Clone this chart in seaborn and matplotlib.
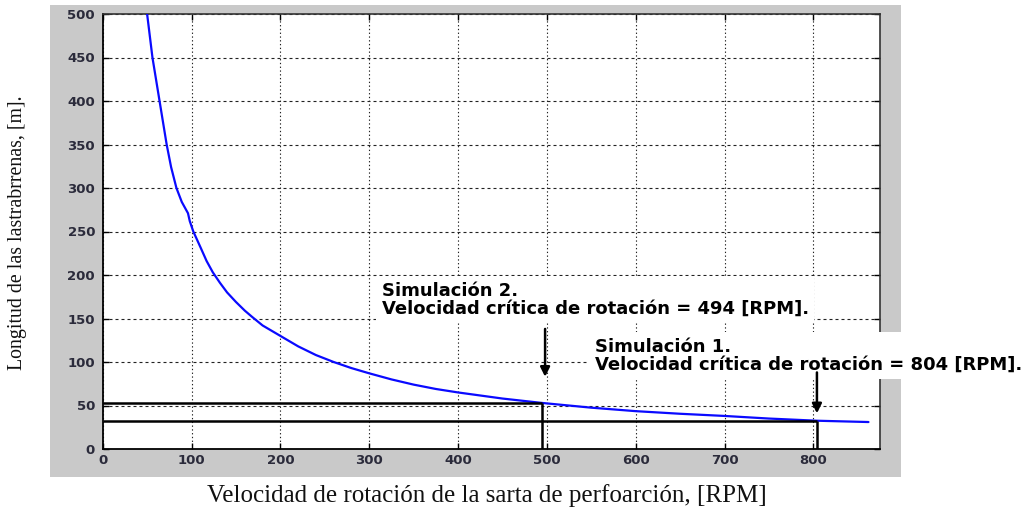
import matplotlib
matplotlib.use("Agg")
import matplotlib.pyplot as plt
from matplotlib.patches import Rectangle
import seaborn as sns
import pandas as pd

# Critical length of drill collars vs. rotary speed
rpm = [48, 50, 53, 56, 60, 64, 68, 72, 77, 83, 89, 96, 98, 102, 110, 117,
       124, 132, 140, 150, 160, 168, 180, 200, 220, 240, 260, 280, 300, 325,
       350, 375, 400, 450, 494, 550, 600, 650, 700, 750, 804, 862]
longitud = [540, 500, 475, 450, 425, 400, 375, 350, 324, 300, 284, 271, 262,
            250, 232, 216, 203, 191, 180, 169, 159, 152, 142, 130, 118, 108,
            100, 93, 87, 80, 74, 69, 65, 58, 53, 47.5, 43.5, 40.5, 38, 35,
            32.5, 31]

# Critical speeds of the two simulations and their collar lengths
sim_rpm = [804, 494]
sim_len = [32.5, 53]
sim_titles = ["Simulación 1.", "Simulación 2."]

x_ticks = [0, 100, 200, 300, 400, 500, 600, 700, 800]
y_ticks = [0, 50, 100, 150, 200, 250, 300, 350, 400, 450, 500]

xlabel = "Velocidad de rotación de la sarta de perfoarción, [RPM]"
ylabel = "Longitud de las lastrabrrenas, [m]."

df = pd.DataFrame({"rpm": rpm, "longitud": longitud})

sns.set_theme(style="white")
plt.rcParams["font.family"] = ["DejaVu Sans"]

W, H = 1027, 509
fig = plt.figure(figsize=(W / 100, H / 100), dpi=100, facecolor="white")

# grey figure panel behind the axes
fig.patches.append(Rectangle((50 / W, 1 - 477 / H), (901 - 50) / W, (477 - 5) / H,
                             transform=fig.transFigure, facecolor="#c9c9c9",
                             edgecolor="none", zorder=0))

ax = fig.add_axes([102.7 / W, 1 - 449 / H, (880 - 102.7) / W, (449 - 14) / H])
ax.set_facecolor("white")
ax.set_zorder(1)

sns.lineplot(data=df, x="rpm", y="longitud", ax=ax, color="#0a0aff", lw=1.6,
             sort=False, estimator=None, zorder=3)

ax.set_xlim(0, 875)
ax.set_ylim(0, 500)
ax.set_xticks(x_ticks)
ax.set_yticks(y_ticks)
ax.set_xticklabels([str(v) for v in x_ticks])
ax.set_yticklabels([str(v) for v in y_ticks])

tick_color = "#2b2b3b"
ax.tick_params(axis="both", direction="in", length=4, width=1, color="black",
               labelsize=9.5, labelcolor=tick_color, top=True, right=True,
               bottom=True, left=True)
ax.tick_params(axis="x", pad=3.5)
ax.tick_params(axis="y", pad=5.5)
for lab in ax.get_xticklabels() + ax.get_yticklabels():
    lab.set_fontweight("bold")

for side in ["left", "bottom"]:
    ax.spines[side].set_color("black")
    ax.spines[side].set_linewidth(1.3)
for side in ["top", "right"]:
    ax.spines[side].set_color("#333333")
    ax.spines[side].set_linewidth(1.2)

# MATLAB-like dotted grid
ax.xaxis.grid(True, color="#222222", lw=0.8, linestyle=(0, (1.2, 2.2)))
ax.yaxis.grid(True, color="#222222", lw=0.8, linestyle=(0, (2.7, 2.7)))
ax.set_axisbelow(True)

# reference lines for each simulation
for n, l in zip(sim_rpm, sim_len):
    ax.plot([0, n], [l, l], color="black", lw=1.8, zorder=4, solid_capstyle="butt")
    ax.plot([n, n], [0, l], color="black", lw=1.8, zorder=4, solid_capstyle="butt")

# annotations with arrows
box = dict(facecolor="white", edgecolor="none", pad=4)
labels = [f"{t}\nVelocidad crítica de rotación = {n} [RPM]."
          for t, n in zip(sim_titles, sim_rpm)]

ax.text(554, 128, labels[0], ha="left", va="top", fontsize=13, fontweight="bold",
        color="black", linespacing=0.98, bbox=box, clip_on=False, zorder=6)
ax.text(314, 192, labels[1], ha="left", va="top", fontsize=13, fontweight="bold",
        color="black", linespacing=0.98, bbox=box, clip_on=False, zorder=6)

arrow = dict(arrowstyle="-|>", lw=1.8, color="black", mutation_scale=14,
             shrinkA=0, shrinkB=0)
ax.annotate("", xy=(sim_rpm[0], 41), xytext=(sim_rpm[0], 88), arrowprops=arrow,
            zorder=7)
ax.annotate("", xy=(498, 83), xytext=(498, 138), arrowprops=arrow, zorder=7)

ax.set_xlabel(xlabel, fontsize=18, family=["Liberation Serif"], color="#111111",
              va="center")
ax.set_ylabel(ylabel, fontsize=14.3, family=["Liberation Serif"], color="#111111",
              va="center")
ax.xaxis.set_label_coords(0.494, -0.106)
ax.yaxis.set_label_coords(-0.109, 0.498)

fig.savefig("out.png", dpi=100, facecolor="white")
